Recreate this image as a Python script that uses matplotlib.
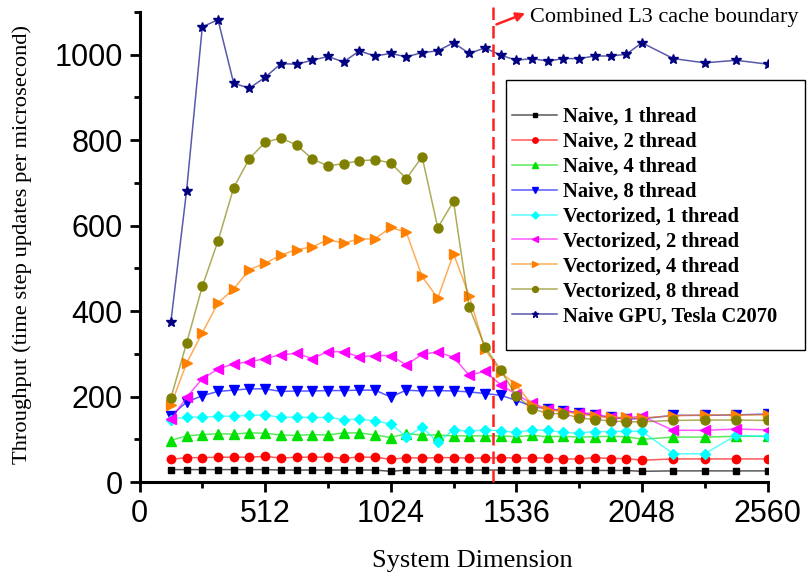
import matplotlib
matplotlib.use("Agg")
import matplotlib.pyplot as plt
from matplotlib.patches import Rectangle
from matplotlib.ticker import MultipleLocator

# system dimension (x)
dims = [128, 192, 256, 320, 384, 448, 512, 576, 640, 704, 768, 832, 896, 960,
        1024, 1088, 1152, 1216, 1280, 1344, 1408, 1472, 1536, 1600, 1664, 1728,
        1792, 1856, 1920, 1984, 2048, 2176, 2304, 2432, 2560]

naive1 = [29, 29, 29, 29, 29, 29, 29, 28, 28, 28, 28, 28, 28, 28, 25, 28, 28, 28,
          28, 28, 28, 28, 27, 27, 27, 27, 27, 27, 27, 27, 25, 26, 26, 26, 26]
naive2 = [53, 57, 57, 58, 58, 58, 60, 56, 58, 58, 58, 56, 58, 58, 53, 57, 56, 57,
          57, 56, 56, 57, 56, 56, 56, 54, 54, 57, 55, 55, 51, 54, 54, 54, 54]
naive4 = [97, 108, 111, 113, 112, 115, 114, 110, 109, 111, 110, 115, 115, 110, 104,
          113, 110, 110, 108, 108, 108, 108, 106, 109, 106, 107, 105, 106, 107, 106,
          100, 105, 105, 107, 107]
naive8 = [155, 187, 202, 212, 215, 218, 218, 212, 213, 213, 214, 214, 215, 215, 199,
          215, 213, 214, 213, 211, 207, 203, 191, 177, 171, 167, 162, 156, 151, 148,
          148, 156, 156, 157, 159]
vec1 = [146, 153, 151, 154, 154, 156, 157, 151, 152, 151, 151, 146, 147, 143, 136,
        106, 128, 93, 122, 119, 122, 120, 116, 122, 121, 116, 115, 118, 118, 119,
        119, 66, 66, 109, 107]
vec2 = [147, 198, 242, 264, 277, 281, 289, 298, 301, 289, 305, 305, 293, 296, 296,
        274, 299, 304, 292, 250, 259, 228, 205, 184, 171, 167, 162, 160, 151, 150,
        154, 121, 121, 124, 122]
vec4 = [180, 278, 349, 419, 452, 497, 512, 531, 544, 550, 567, 559, 569, 569, 596,
        584, 481, 430, 534, 436, 311, 257, 227, 181, 169, 165, 159, 154, 151, 151,
        150, 155, 157, 157, 157]
vec8 = [197, 325, 458, 564, 689, 757, 795, 805, 789, 756, 740, 745, 752, 754, 747,
        710, 761, 595, 657, 409, 317, 262, 202, 172, 160, 160, 150, 146, 143, 141,
        141, 144, 145, 145, 144]
gpu = [375, 682, 1065, 1082, 933, 922, 947, 979, 978, 987, 996, 983, 1009, 997, 1003,
       995, 1005, 1009, 1028, 1003, 1016, 999, 987, 991, 985, 991, 991, 997, 997, 1001,
       1028, 991, 981, 987, 978]

labels = ["Naive, 1 thread", "Naive, 2 thread", "Naive, 4 thread", "Naive, 8 thread",
          "Vectorized, 1 thread", "Vectorized, 2 thread", "Vectorized, 4 thread",
          "Vectorized, 8 thread", "Naive GPU, Tesla C2070"]
series = [naive1, naive2, naive4, naive8, vec1, vec2, vec4, vec8, gpu]
colors = ["#000000", "#ff0000", "#00e000", "#0000ff", "#00ffff", "#ff00ff",
          "#ff8000", "#808000", "#000080"]
markers = ["s", "o", "^", "v", "D", "<", ">", "o", "*"]
msizes = [5, 6, 6.5, 6.5, 5.5, 6.5, 6.5, 6.5, 7]

cache_boundary = 1440

fig = plt.figure(figsize=(8.08, 5.78), dpi=100)
ax = fig.add_axes([139.5 / 808, 1 - 482 / 578, 628 / 808, 470 / 578])

for vals, lab, c, m, ms in zip(series, labels, colors, markers, msizes):
    rgb = matplotlib.colors.to_rgb(c)
    ax.plot(dims, vals, color=rgb + (0.65,), lw=1.1, marker=m, ms=ms,
            markerfacecolor=c, markeredgecolor=c, label=lab)

ax.axvline(cache_boundary, ymin=0, ymax=1.015, color="#ff2020", lw=1.8,
           linestyle=(0, (5, 2.4)), clip_on=False, zorder=5)

ax.annotate("", xy=(1572, 1097), xytext=(1455, 1071),
            arrowprops=dict(arrowstyle="-|>", color="#ff2020", lw=1.8,
                            mutation_scale=13, shrinkA=0, shrinkB=0),
            annotation_clip=False)
ax.text(1590, 1088, "Combined L3 cache boundary", fontsize=16,
        family="Liberation Serif", va="center", ha="left")

ax.set_xlim(0, 2560)
ax.set_ylim(0, 1100)
ax.xaxis.set_major_locator(MultipleLocator(512))
ax.xaxis.set_minor_locator(MultipleLocator(256))
ax.yaxis.set_major_locator(MultipleLocator(200))
ax.yaxis.set_minor_locator(MultipleLocator(100))

for s in ["top", "right"]:
    ax.spines[s].set_visible(False)
for s in ["left", "bottom"]:
    ax.spines[s].set_linewidth(2.2)

ax.tick_params(which="major", direction="out", length=7, width=2, pad=5)
ax.tick_params(which="minor", direction="out", length=4, width=2)
for t in ax.get_xticklabels() + ax.get_yticklabels():
    t.set_fontfamily("Liberation Sans")
    t.set_fontsize(22)

ax.set_xlabel("System Dimension", fontsize=19, family="Liberation Serif")
ax.xaxis.set_label_coords(0.53, -0.145)
ax.xaxis.label.set_va("top")
ax.set_ylabel("Throughput (time step updates per microsecond)", fontsize=16.2,
              family="Liberation Serif")
ax.yaxis.set_label_coords(-0.171, 0.505)

leg = ax.legend(loc="upper left", bbox_to_anchor=(512 / 808, 1 - 107 / 578),
                bbox_transform=fig.transFigure, frameon=False, borderpad=0,
                borderaxespad=0, labelspacing=0.24, handlelength=2.2,
                handletextpad=0.3, markerscale=0.65,
                prop={"family": "Liberation Serif", "weight": "bold", "size": 14.8})

fig.add_artist(Rectangle((506 / 808, 1 - 350 / 578), 299 / 808, 270 / 578,
                         transform=fig.transFigure, fill=False, ec="black", lw=1))

fig.savefig("out.png", dpi=100)
